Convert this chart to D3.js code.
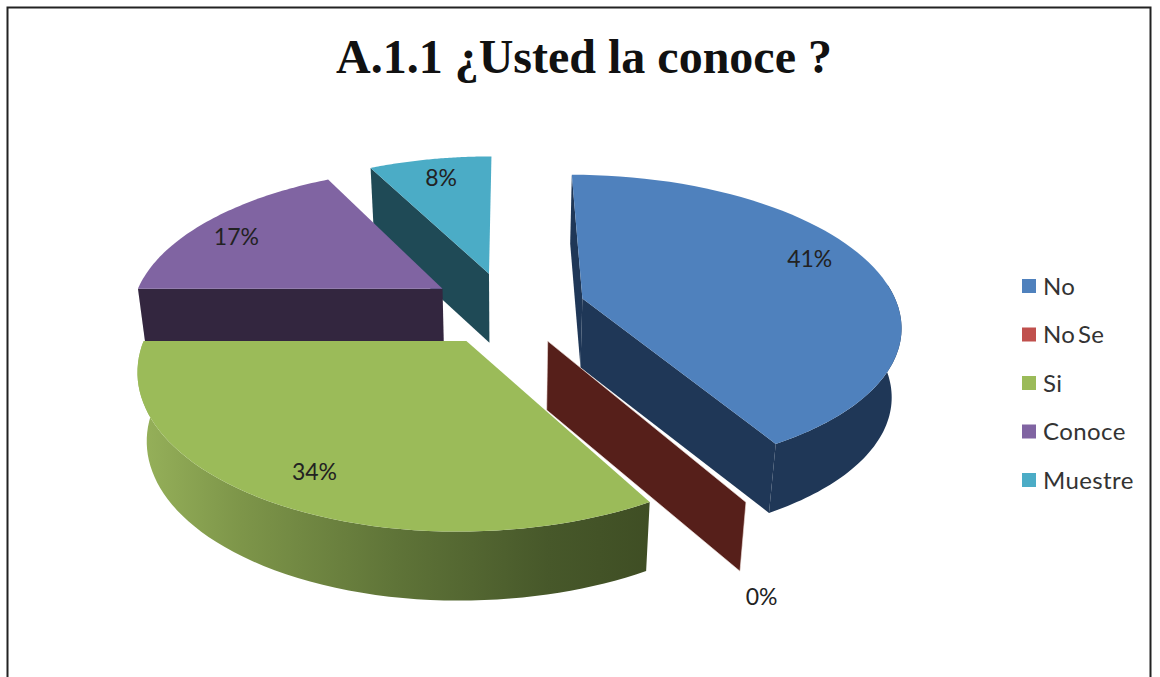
<!DOCTYPE html>
<html><head><meta charset="utf-8">
<script src="https://cdn.jsdelivr.net/npm/d3@7"></script>
<style>html,body{margin:0;background:#fff}svg{display:block}</style></head>
<body><div id="c"></div>
<script>
const titleText = "A.1.1 ¿Usted la conoce ?";
const categories = ["No","No Se","Si","Conoce","Muestre"];
const values = [41,0,34,17,8];
const colors = ["#4f81bd","#c0504d","#9bbb59","#8064a2","#4bacc6"];
const sideColors = ["#1f3757","#561f1a","#4a5c2a","#33263f","#1f4a56"];

const W=1160,H=677, cx=507, cy=308, Rx=316, Ky=147, persp=0.165, depth=69, shrink=0.975, explode=0.25;
const leftSquash=0.985, backStretch=1.0, warpFront=3.2*Math.PI/180, warpBack=2.0*Math.PI/180;
const svg=d3.select("#c").append("svg").attr("width",W).attr("height",H);
svg.append("rect").attr("width",W).attr("height",H).attr("fill","#fff");
svg.append("rect").attr("x",7.5).attr("y",7.5).attr("width",1143).attr("height",720).attr("fill","none").attr("stroke","#222").attr("stroke-width",2);

svg.append("text").attr("x",584).attr("y",73).attr("text-anchor","middle")
  .attr("font-family","'Liberation Serif',serif").attr("font-weight","bold").attr("font-size",48).attr("fill","#111").text(titleText);

const defs=svg.append("defs");
const g=defs.append("linearGradient").attr("id","greenSide").attr("gradientUnits","userSpaceOnUse").attr("x1",140).attr("x2",650).attr("y1",0).attr("y2",0);
[[0,"#96b15a"],[0.2,"#7d9549"],[0.5,"#5f7438"],[0.8,"#47582a"],[1,"#3f4e24"]].forEach(s=>g.append("stop").attr("offset",s[0]).attr("stop-color",s[1]));

const pie=d3.pie().sort(null).value(d=>d)(values);
const dir=a=>{const w=a<Math.PI?warpFront:warpBack, b=a+w*Math.pow(Math.sin(2*a),2);return [Math.sin(b),-Math.cos(b)];};
function proj(X,Y,low){
  const s=1/(1-persp*Y), k=low?shrink:1;
  const xs=X<0?leftSquash:1, ys=Y<0?backStretch:1;
  return [cx+Rx*X*s*k*xs, cy+Ky*Y*s*ys+(low?depth:0)];
}
const line=d3.line();
const slices=pie.map((p,i)=>{
  const m=dir((p.startAngle+p.endAngle)/2), ox=explode*m[0], oy=explode*m[1];
  const at=(a,f,low)=>{const d=dir(a);return proj(ox+f*d[0],oy+f*d[1],low);};
  const arcPts=(low)=>d3.range(0,61).map(t=>at(p.startAngle+(p.endAngle-p.startAngle)*t/60,1,low));
  return {i,p,at,arcPts};
});
const plot=svg.append("g");
function radial(s,a){
  return line([s.at(a,0,false),s.at(a,1,false),s.at(a,1,true),s.at(a,0,true)])+"Z";
}
function rim(s,a0,a1){
  const pts=d3.range(0,61).map(t=>a0+(a1-a0)*t/60);
  return line(pts.map(a=>s.at(a,1,false)).concat(pts.slice().reverse().map(a=>s.at(a,1,true))))+"Z";
}
function topFace(s){return line([s.at(s.p.startAngle,0,false),...s.arcPts(false)])+"Z";}

const order=[4,3,0,1,2];
order.forEach(i=>{
  const s=slices[i], p=s.p, side=sideColors[i];
  if(i===4){ plot.append("path").attr("d",radial(s,p.startAngle)).attr("fill",side); }
  if(i===3){ plot.append("path").attr("d",radial(s,p.startAngle)).attr("fill",side); }
  if(i===0){
    plot.append("path").attr("d",radial(s,p.startAngle)).attr("fill",side);
    plot.append("path").attr("d",radial(s,p.endAngle)).attr("fill",side);
    plot.append("path").attr("d",rim(s,Math.PI/2-0.1,p.endAngle)).attr("fill",side);
  }
  if(i===1){ plot.append("path").attr("d",radial(s,p.startAngle)).attr("fill",side).attr("stroke","#f3e6e0").attr("stroke-width",.6); }
  if(i===2){ plot.append("path").attr("d",rim(s,p.startAngle,p.endAngle)).attr("fill","url(#greenSide)"); }
  if(values[i]>0) plot.append("path").attr("d",topFace(s)).attr("fill",colors[i]);
});

const labelRadius=[0.72,1.3,0.55,0.72,0.72];
const nudge=[[19,-14],[-58,34],[-51,48],[-35,-2],[-3,-11]];
slices.forEach((s,i)=>{
  const mid=(s.p.startAngle+s.p.endAngle)/2, q=s.at(mid,labelRadius[i],false);
  plot.append("text").attr("x",q[0]+nudge[i][0]).attr("y",q[1]+nudge[i][1]).attr("text-anchor","middle").attr("dominant-baseline","central")
    .attr("font-family","Lato,'Open Sans',sans-serif").attr("font-size",23).attr("fill","#222").text(values[i]+"%");
});

const ly=d3.scalePoint().domain(categories).range([285,479]);
const leg=svg.append("g");
categories.forEach((c,i)=>{
  leg.append("rect").attr("x",1022).attr("y",ly(c)-6).attr("width",14).attr("height",14).attr("fill",colors[i]);
  leg.append("text").attr("x",1043).attr("y",ly(c)).attr("dominant-baseline","central").attr("word-spacing",-4).attr("letter-spacing",.4)
    .attr("font-family","Lato,'Open Sans',sans-serif").attr("font-size",24).attr("fill","#333").text(c);
});
</script></body></html>
